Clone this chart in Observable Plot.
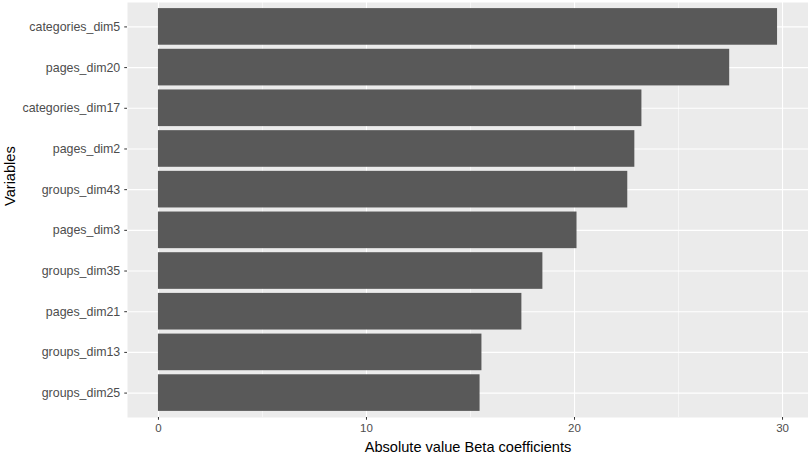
<!DOCTYPE html>
<html>
<head>
<meta charset="utf-8">
<script src="https://cdn.jsdelivr.net/npm/d3@7"></script>
<script src="https://cdn.jsdelivr.net/npm/@observablehq/plot@0.6"></script>
<style>
  html, body { margin: 0; padding: 0; background: #fff; }
  #chart svg { display: block; }
</style>
</head>
<body>
<div id="chart"></div>
<script>
const variables = ["categories_dim5", "pages_dim20", "categories_dim17", "pages_dim2", "groups_dim43",
                   "pages_dim3", "groups_dim35", "pages_dim21", "groups_dim13", "groups_dim25"];
const betas = [29.76, 27.46, 23.24, 22.9, 22.56, 20.12, 18.48, 17.47, 15.55, 15.46];
const xTicks = [0, 10, 20, 30];
const xMinorTicks = [5, 15, 25];
const xTitle = "Absolute value Beta coefficients";
const yTitle = "Variables";

const data = variables.map((v, i) => ({variable: v, value: betas[i]}));
const maxV = d3.max(betas);
const pad = maxV * 0.05;

const chart = Plot.plot({
  width: 808,
  height: 456,
  marginLeft: 127,
  marginRight: 0,
  marginTop: 2,
  marginBottom: 39,
  style: {fontFamily: "'Liberation Sans', Arial, sans-serif", background: "#fff"},
  x: {domain: [-pad, maxV + pad]},
  y: {domain: variables, paddingInner: 0.1, paddingOuter: 0.15, round: false},
  marks: [
    Plot.frame({fill: "#EBEBEB", stroke: null}),
    Plot.ruleX(xMinorTicks, {stroke: "#fff", strokeWidth: 0.55}),
    Plot.ruleX(xTicks, {stroke: "#fff", strokeWidth: 1.1}),
    Plot.gridY({stroke: "#fff", strokeOpacity: 1, strokeWidth: 1.1}),
    Plot.barX(data, {x: "value", y: "variable", fill: "#595959"}),
    Plot.axisY({tickSize: 2.75, tickPadding: 4.5, stroke: "#333", fill: "#4D4D4D", fontSize: 12.4, label: null}),
    Plot.axisX({ticks: xTicks, tickSize: 2.75, tickPadding: 4, stroke: "#333", fill: "#4D4D4D", fontSize: 11.5, label: null}),
    Plot.text([xTitle], {frameAnchor: "bottom", lineAnchor: "middle", dy: 30, fontSize: 14.6, fill: "#000"}),
    Plot.text([yTitle], {frameAnchor: "left", dx: -117, dy: -4, rotate: -90, fontSize: 14.6, fill: "#000"})
  ]
});
document.getElementById("chart").appendChild(chart);
</script>
</body>
</html>
